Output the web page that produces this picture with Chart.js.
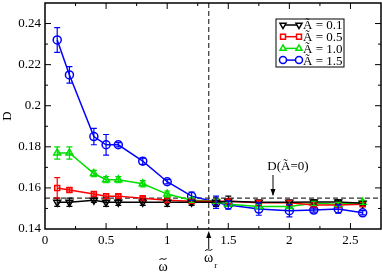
<!DOCTYPE html>
<html>
<head>
<meta charset="utf-8">
<script src="https://cdn.jsdelivr.net/npm/chart.js@4.4.1/dist/chart.umd.min.js"></script>
<style>
  html, body { margin: 0; padding: 0; background: #fff; }
  #wrap { width: 382px; height: 273px; position: relative; }
</style>
</head>
<body>
<div id="wrap"><canvas id="chart" width="382" height="273"></canvas></div>
<script>
// omega values (shared by all series)
const omega = [0.1, 0.2, 0.4, 0.5, 0.6, 0.8, 1.0, 1.2, 1.4, 1.5, 1.75, 2.0, 2.2, 2.4, 2.6];

const dA01 = [0.153, 0.153, 0.154, 0.153, 0.153, 0.153, 0.153, 0.153, 0.153, 0.1535, 0.153, 0.153, 0.1532, 0.1532, 0.1525];
const eA01 = [0.002, 0.002, 0.001, 0.002, 0.0015, 0.0015, 0.002, 0.0015, 0.002, 0.0025, 0.001, 0.001, 0.001, 0.001, 0.001];

const dA05 = [0.160, 0.159, 0.157, 0.156, 0.156, 0.155, 0.154, 0.1535, 0.1535, 0.1535, 0.1528, 0.1528, 0.1517, 0.1517, 0.152];
const eA05 = [0.005, 0.001, 0.001, 0.0012, 0.001, 0.001, 0.001, 0.001, 0.001, 0.001, 0.001, 0.001, 0.001, 0.001, 0.001];

const dA10 = [0.177, 0.177, 0.167, 0.164, 0.164, 0.162, 0.157, 0.154, 0.1535, 0.152, 0.151, 0.151, 0.1525, 0.152, 0.153];
const eA10 = [0.003, 0.003, 0.0015, 0.0015, 0.0015, 0.0015, 0.0015, 0.001, 0.001, 0.001, 0.001, 0.001, 0.001, 0.001, 0.001];

const dA15 = [0.232, 0.215, 0.185, 0.181, 0.181, 0.173, 0.163, 0.156, 0.153, 0.1517, 0.1497, 0.1489, 0.1492, 0.1497, 0.1479];
const eA15 = [0.006, 0.004, 0.004, 0.005, 0.001, 0.0015, 0.001, 0.002, 0.003, 0.002, 0.003, 0.003, 0.001, 0.002, 0.001];

const xTicks = [0, 0.5, 1, 1.5, 2, 2.5];
const yTicks = [0.14, 0.16, 0.18, 0.2, 0.22, 0.24];

const labels = ["Ã = 0.1", "Ã = 0.5", "Ã = 1.0", "Ã = 1.5"];
const colors = ["#000000", "#ff0000", "#00dd00", "#0000ff"];
const styles = ["triangle", "rect", "triangle", "circle"];
const rotations = [180, 0, 0, 0];

const omegaR = 1.34;   // resonance line
const dZero = 0.155;   // D(A=0) reference line

const serif = "'Liberation Serif', 'DejaVu Serif', serif";

const series = [[dA01, eA01], [dA05, eA05], [dA10, eA10], [dA15, eA15]];

const datasets = series.map((s, i) => ({
    label: labels[i],
    data: omega.map((w, j) => ({ x: w, y: s[0][j] })),
    errs: s[1],
    borderColor: colors[i],
    backgroundColor: "rgba(0,0,0,0)",
    pointBorderColor: colors[i],
    pointBackgroundColor: "rgba(0,0,0,0)",
    pointStyle: styles[i],
    rotation: rotations[i],
    pointRadius: i == 1 ? 3.5 : 4,
    pointBorderWidth: 1.5,
    borderWidth: 1.5,
    tension: 0
}));

// omega with a tilde drawn above it
function omegaTilde(ctx, x, y) {
    ctx.font = "14px " + serif;
    ctx.fillText("ω", x, y);
    const ty = y - 8;
    ctx.lineWidth = 1;
    ctx.beginPath();
    ctx.moveTo(x - 3.5, ty + 1);
    ctx.bezierCurveTo(x - 1.5, ty - 2.5, x + 1.5, ty + 2.5, x + 3.5, ty - 1);
    ctx.stroke();
}

// error bars, frame, inward ticks, reference lines, annotations, legend
const extras = {
    id: "extras",
    beforeDatasetsDraw(chart) {
        const { ctx, chartArea: a, scales: { x, y } } = chart;
        ctx.save();
        ctx.strokeStyle = "#333";
        ctx.lineWidth = 1.2;
        ctx.setLineDash([5, 3]);
        const yr = y.getPixelForValue(dZero);
        ctx.beginPath(); ctx.moveTo(a.left, yr); ctx.lineTo(a.right - 2, yr); ctx.stroke();
        const xr = x.getPixelForValue(omegaR);
        ctx.beginPath(); ctx.moveTo(xr, a.top); ctx.lineTo(xr, a.bottom); ctx.stroke();
        ctx.restore();
    },
    afterDatasetsDraw(chart) {
        const { ctx, chartArea: a, scales: { x, y } } = chart;
        ctx.save();
        chart.data.datasets.forEach((ds) => {
            ctx.strokeStyle = ds.borderColor;
            ctx.lineWidth = 1.2;
            ds.data.forEach((p, j) => {
                const e = ds.errs[j];
                const px = x.getPixelForValue(p.x);
                const y1 = y.getPixelForValue(p.y + e);
                const y2 = y.getPixelForValue(p.y - e);
                ctx.beginPath();
                ctx.moveTo(px, y1); ctx.lineTo(px, y2);
                ctx.moveTo(px - 3, y1); ctx.lineTo(px + 3, y1);
                ctx.moveTo(px - 3, y2); ctx.lineTo(px + 3, y2);
                ctx.stroke();
            });
        });

        // frame
        ctx.strokeStyle = "#000";
        ctx.lineWidth = 1.5;
        ctx.strokeRect(a.left, a.top, a.right - a.left, a.bottom - a.top);

        // inward ticks
        ctx.lineWidth = 1;
        for (let v = 0.25; v < 2.75; v += 0.25) {
            const px = x.getPixelForValue(v);
            const len = Math.abs(v * 2 - Math.round(v * 2)) < 1e-6 ? 6 : 3;
            ctx.beginPath();
            ctx.moveTo(px, a.bottom); ctx.lineTo(px, a.bottom - len);
            ctx.moveTo(px, a.top); ctx.lineTo(px, a.top + len);
            ctx.stroke();
        }
        for (let k = 15; k < 25; k++) {
            const py = y.getPixelForValue(k / 100);
            const len = k % 2 == 0 ? 6 : 3;
            ctx.beginPath();
            ctx.moveTo(a.left, py); ctx.lineTo(a.left + len, py);
            ctx.moveTo(a.right, py); ctx.lineTo(a.right - len, py);
            ctx.stroke();
        }

        // annotations
        ctx.fillStyle = "#000";
        ctx.font = "13px " + serif;
        ctx.textAlign = "center";
        ctx.textBaseline = "middle";
        ctx.fillText("D(Ã=0)", 288, 167);
        const ax = 273;
        ctx.beginPath(); ctx.moveTo(ax, 175); ctx.lineTo(ax, 195); ctx.stroke();
        ctx.beginPath(); ctx.moveTo(ax - 2.5, 189); ctx.lineTo(ax, 196); ctx.lineTo(ax + 2.5, 189); ctx.closePath(); ctx.fill();

        const xr = x.getPixelForValue(omegaR);
        ctx.beginPath(); ctx.moveTo(xr, 233); ctx.lineTo(xr, 249); ctx.stroke();
        ctx.beginPath(); ctx.moveTo(xr - 2.5, 238); ctx.lineTo(xr, 231); ctx.lineTo(xr + 2.5, 238); ctx.closePath(); ctx.fill();
        omegaTilde(ctx, xr, 258);
        ctx.font = "9px " + serif;
        ctx.fillText("r", xr + 7, 266);
        omegaTilde(ctx, 163, 267);

        // legend
        const lx = 276, ly = 19, lw = 68, lh = 48;
        ctx.fillStyle = "#fff";
        ctx.fillRect(lx, ly, lw, lh);
        ctx.strokeStyle = "#000";
        ctx.lineWidth = 1;
        ctx.strokeRect(lx, ly, lw, lh);
        ctx.font = "13px " + serif;
        ctx.textAlign = "left";
        chart.data.datasets.forEach((ds, i) => {
            const yy = ly + 6 + i * 11.7;
            ctx.strokeStyle = ds.borderColor;
            ctx.lineWidth = 1.5;
            ctx.beginPath(); ctx.moveTo(lx + 5, yy); ctx.lineTo(lx + 25, yy); ctx.stroke();
            [lx + 7, lx + 23].forEach((px) => {
                ctx.fillStyle = "#fff";
                Chart.helpers.drawPoint(ctx, { pointStyle: ds.pointStyle, rotation: ds.rotation, radius: 3.5, borderWidth: 1.5 }, px, yy);
            });
            ctx.fillStyle = "#000";
            ctx.fillText(ds.label, lx + 27, yy + 1);
        });
        ctx.restore();
    }
};

new Chart("chart", {
    type: "line",
    data: { datasets: datasets },
    plugins: [extras],
    options: {
        responsive: false,
        animation: false,
        layout: { autoPadding: false, padding: { top: 3, right: 1, left: 0, bottom: 0 } },
        plugins: { legend: { display: false }, tooltip: { enabled: false } },
        scales: {
            x: {
                type: "linear",
                min: 0, max: 2.75,
                afterBuildTicks(s) { s.ticks = xTicks.map((v) => ({ value: v })); },
                afterFit(s) { s.height = 44; s.paddingLeft = 0; s.paddingRight = 0; },
                grid: { display: false, drawTicks: false },
                border: { display: false },
                ticks: {
                    autoSkip: false,
                    padding: 4,
                    color: "#000",
                    font: { family: serif, size: 13 },
                    callback: (v) => String(v)
                }
            },
            y: {
                min: 0.14, max: 0.25,
                afterBuildTicks(s) { s.ticks = yTicks.map((v) => ({ value: v })); },
                afterFit(s) { s.width = 45; s.paddingTop = 0; s.paddingBottom = 0; },
                grid: { display: false, drawTicks: false },
                border: { display: false },
                title: { display: true, text: "D", color: "#000", font: { family: serif, size: 13 }, padding: 0 },
                ticks: {
                    autoSkip: false,
                    padding: 4,
                    color: "#000",
                    font: { family: serif, size: 13 },
                    callback: (v) => String(Math.round(v * 100) / 100)
                }
            }
        }
    }
});
</script>
</body>
</html>
